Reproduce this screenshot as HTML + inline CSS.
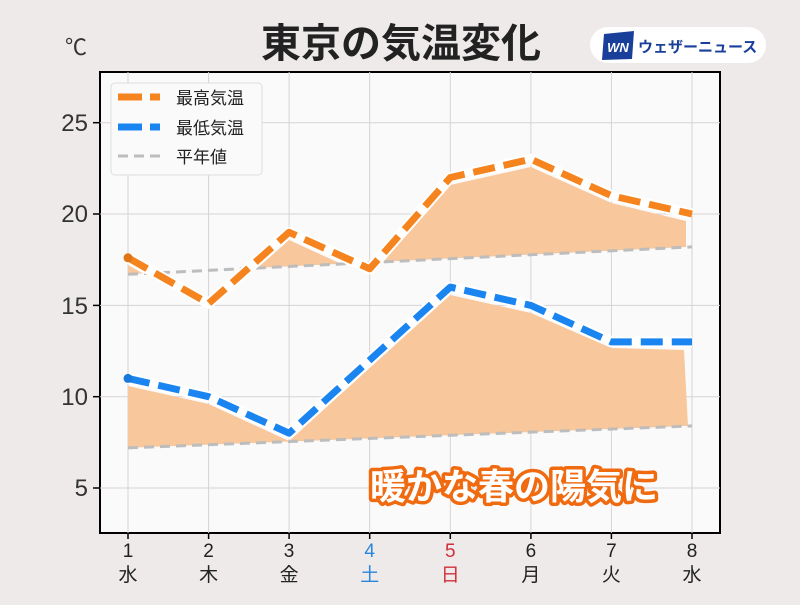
<!DOCTYPE html>
<html><head><meta charset="utf-8"><style>
body{margin:0;background:#eeeaea;}
svg text{font-family:"Liberation Sans","Noto Sans CJK JP",sans-serif;}
</style></head><body>
<svg width="800" height="600" viewBox="0 0 800 600" xmlns="http://www.w3.org/2000/svg">
<rect width="800" height="600" fill="#eeeaea"/>
<text x="401" y="57" font-size="40" font-weight="bold" text-anchor="middle" fill="#222">東京の気温変化</text>
<text x="76" y="55" font-size="22" text-anchor="middle" fill="#333">℃</text>
<rect x="590" y="27" width="176" height="36" rx="18" fill="#fff"/>
<polygon points="604,34 634,31 632,59 602,60" fill="#1a3f9a"/>
<text x="618" y="52" font-size="13" font-weight="bold" font-style="italic" text-anchor="middle" fill="#fff">WN</text>
<text x="638" y="52" font-size="15" font-weight="bold" fill="#1a3f9a">ウェザーニュース</text>
<rect x="100" y="72" width="620" height="461" fill="#fbfafa" stroke="#000" stroke-width="2"/>
<g stroke="#d6d3d3" stroke-width="1">
<line x1="128" y1="72" x2="128" y2="533"/><line x1="208.6" y1="72" x2="208.6" y2="533"/><line x1="289.1" y1="72" x2="289.1" y2="533"/><line x1="369.7" y1="72" x2="369.7" y2="533"/><line x1="450.3" y1="72" x2="450.3" y2="533"/><line x1="530.9" y1="72" x2="530.9" y2="533"/><line x1="611.4" y1="72" x2="611.4" y2="533"/><line x1="692" y1="72" x2="692" y2="533"/>
<line x1="100" y1="122.7" x2="720" y2="122.7"/><line x1="100" y1="214" x2="720" y2="214"/><line x1="100" y1="305.4" x2="720" y2="305.4"/><line x1="100" y1="396.7" x2="720" y2="396.7"/><line x1="100" y1="488" x2="720" y2="488"/>
</g>
<g stroke="#000" stroke-width="1.5">
<line x1="93" y1="122.7" x2="100" y2="122.7"/><line x1="93" y1="214" x2="100" y2="214"/><line x1="93" y1="305.4" x2="100" y2="305.4"/><line x1="93" y1="396.7" x2="100" y2="396.7"/><line x1="93" y1="488" x2="100" y2="488"/>
<line x1="128" y1="533" x2="128" y2="539"/><line x1="208.6" y1="533" x2="208.6" y2="539"/><line x1="289.1" y1="533" x2="289.1" y2="539"/><line x1="369.7" y1="533" x2="369.7" y2="539"/><line x1="450.3" y1="533" x2="450.3" y2="539"/><line x1="530.9" y1="533" x2="530.9" y2="539"/><line x1="611.4" y1="533" x2="611.4" y2="539"/><line x1="692" y1="533" x2="692" y2="539"/>
</g>
<g font-size="24" fill="#333" text-anchor="end">
<text x="88" y="131">25</text><text x="88" y="222">20</text><text x="88" y="314">15</text><text x="88" y="405">10</text><text x="88" y="496">5</text>
</g>
<g font-size="19" fill="#222" text-anchor="middle">
<text x="128" y="557">1</text><text x="208.6" y="557">2</text><text x="289.1" y="557">3</text><text x="369.7" y="557" fill="#2a86d8">4</text><text x="450.3" y="557" fill="#d0303a">5</text><text x="530.9" y="557">6</text><text x="611.4" y="557">7</text><text x="692" y="557">8</text>
<text x="128" y="581">水</text><text x="208.6" y="581">木</text><text x="289.1" y="581">金</text><text x="369.7" y="581" fill="#2a86d8">土</text><text x="450.3" y="581" fill="#d0303a">日</text><text x="530.9" y="581">月</text><text x="611.4" y="581">火</text><text x="692" y="581">水</text>
</g>
<defs>
<clipPath id="cmax"><polygon points="128,0 128,274.3 692,246.9 692,0"/></clipPath>
<clipPath id="cmin"><polygon points="128,0 128,447.9 692,425.9 692,0"/></clipPath>
</defs>
<polygon clip-path="url(#cmax)" fill="#f8c79b" points="128,265 208.6,311 289.1,240 369.7,277 450.3,185 530.9,167 611.4,203 686,221 686,247 128,274.3"/>
<polygon clip-path="url(#cmin)" fill="#f8c79b" points="128,386 208.6,404 289.1,441 369.7,368 450.3,295 530.9,313 611.4,348 684,350 688,426 128,447.9"/>
<polyline points="128,274.3 692,246.9" fill="none" stroke="#bdbdbd" stroke-width="3" stroke-dasharray="10,6"/>
<polyline points="128,447.9 692,425.9" fill="none" stroke="#bdbdbd" stroke-width="3" stroke-dasharray="10,6"/>
<g fill="none" stroke-linejoin="round">
<polyline points="128,257.8 208.6,303.5 289.1,232.3 369.7,268.8 450.3,177.5 530.9,159.2 611.4,195.7 692,214" stroke="#fff" stroke-width="11"/>
<polyline points="128,257.8 208.6,303.5 289.1,232.3 369.7,268.8 450.3,177.5 530.9,159.2 611.4,195.7 692,214" stroke="#f5841f" stroke-width="7" stroke-dasharray="22,9"/>
<polyline points="128,378.4 208.6,396.7 289.1,433.2 369.7,360.1 450.3,287.1 530.9,305.4 611.4,341.9 692,341.9" stroke="#fff" stroke-width="11"/>
<polyline points="128,378.4 208.6,396.7 289.1,433.2 369.7,360.1 450.3,287.1 530.9,305.4 611.4,341.9 692,341.9" stroke="#1a85f0" stroke-width="7" stroke-dasharray="22,9"/>
</g>
<circle cx="128" cy="257.8" r="4.5" fill="#e07515"/>
<circle cx="128" cy="378.4" r="4.5" fill="#1878dc"/>
<rect x="111" y="83" width="151" height="92" rx="4" fill="#fbfafa" stroke="#ddd"/>
<line x1="118" y1="97" x2="160" y2="97" stroke="#f5841f" stroke-width="7" stroke-dasharray="24,8"/>
<line x1="118" y1="127" x2="160" y2="127" stroke="#1a85f0" stroke-width="7" stroke-dasharray="24,8"/>
<line x1="118" y1="156" x2="160" y2="156" stroke="#bdbdbd" stroke-width="3" stroke-dasharray="10,6"/>
<g font-size="17" fill="#222"><text x="176" y="104">最高気温</text><text x="176" y="134">最低気温</text><text x="176" y="163">平年値</text></g>
<text x="514" y="499" font-size="36" font-weight="bold" text-anchor="middle" fill="#fff" stroke="#f06a10" stroke-width="7" paint-order="stroke" stroke-linejoin="round">暖かな春の陽気に</text>
</svg>
</body></html>
